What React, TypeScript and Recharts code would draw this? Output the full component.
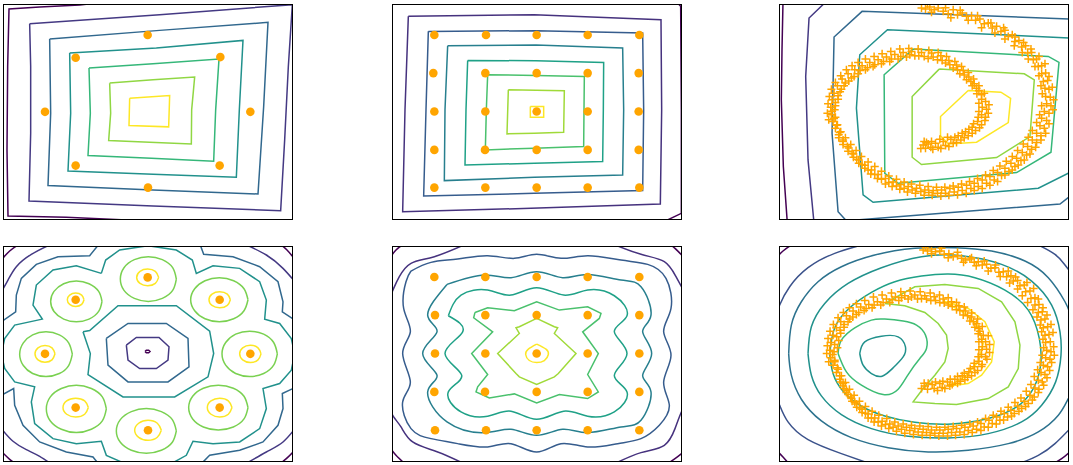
import React from "react";
import { ScatterChart, Scatter, XAxis, YAxis } from "recharts";

type Pt = [number, number];

// ---------- panel 1: eight gaussians on a square ----------
const sqDots: Pt[] = [[444, 106], [228, 174], [662, 172], [136, 336], [752, 336], [228, 497], [660, 497], [445, 563]];
const sqL1: Pt[] = [[310, 8], [240, 16], [120, 22], [28, 28], [24, 200], [22, 450], [25, 648], [200, 652], [470, 664]];
const sqL2: Pt[] = [[90, 72], [480, 45], [878, 15], [866, 200], [855, 420], [843, 632], [460, 618], [88, 603], [93, 400], [93, 200], [90, 72]];
const sqL3: Pt[] = [[150, 118], [480, 92], [805, 68], [792, 320], [775, 582], [460, 570], [145, 557], [153, 340], [150, 118]];
const sqL4: Pt[] = [[210, 160], [470, 145], [730, 122], [719, 330], [710, 532], [460, 523], [205, 513], [213, 340], [210, 160]];
const sqL5: Pt[] = [[268, 205], [460, 192], [658, 178], [648, 330], [642, 484], [455, 475], [265, 467], [272, 340], [268, 205]];
const sqL6: Pt[] = [[330, 250], [460, 240], [585, 232], [576, 330], [575, 432], [450, 427], [327, 422], [333, 340], [330, 250]];
const sqL7: Pt[] = [[390, 295], [510, 287], [507, 381], [388, 377], [390, 295]];

// ---------- panel 2: 5x5 grid ----------
const gridDots: Pt[] = [
  [140, 106], [295, 106], [447, 106], [600, 106], [755, 106],
  [137, 220], [293, 220], [447, 220], [600, 220], [753, 220],
  [140, 335], [293, 335], [447, 335], [600, 335], [753, 335],
  [140, 450], [292, 450], [447, 450], [600, 450], [753, 450],
  [140, 563], [293, 563], [447, 563], [600, 563], [755, 563],
];
const grL1: Pt[] = [[868, 8], [879, 20], [881, 330], [881, 640], [835, 662]];
const grL2: Pt[] = [[62, 50], [440, 45], [820, 60], [822, 330], [818, 612], [430, 625], [45, 635], [52, 330], [62, 50]];
const grL3: Pt[] = [[122, 95], [445, 93], [765, 100], [768, 330], [765, 572], [440, 580], [108, 588], [115, 330], [122, 95]];
const grL4: Pt[] = [[180, 138], [445, 136], [705, 145], [708, 330], [705, 525], [440, 532], [170, 542], [172, 330], [180, 138]];
const grL5: Pt[] = [[240, 182], [445, 183], [648, 188], [647, 330], [645, 485], [440, 490], [232, 495], [235, 330], [240, 182]];
const grL6: Pt[] = [[300, 225], [445, 227], [590, 230], [589, 330], [588, 440], [440, 445], [293, 450], [296, 330], [300, 225]];
const grL7: Pt[] = [[362, 270], [445, 271], [530, 273], [528, 397], [440, 400], [358, 402], [362, 270]];
const grL8: Pt[] = [[428, 320], [468, 320], [468, 352], [428, 352], [428, 320]];

// ---------- panel 3: spiral, coarse contours ----------
const spA: Pt[] = [
  [440, 25], [452, 28], [465, 22], [478, 30], [490, 25], [505, 35], [520, 42], [535, 30], [548, 45], [562, 40],
  [575, 50], [590, 48], [602, 62], [615, 58], [628, 72], [640, 70], [652, 85], [665, 80], [678, 95], [690, 92],
  [700, 110], [712, 105], [720, 125], [732, 122], [740, 142], [752, 138], [758, 160], [770, 158], [775, 180], [785, 178],
  [790, 200], [800, 198], [800, 222], [812, 220], [805, 245], [818, 242], [810, 265], [822, 268], [812, 290], [826, 292],
  [815, 312], [828, 318], [808, 335], [822, 340], [800, 355], [815, 362], [795, 378], [808, 385], [785, 400], [798, 408],
  [772, 420], [785, 428], [758, 440], [770, 448], [742, 458], [755, 465], [725, 475], [738, 482], [708, 490], [720, 500],
  [690, 505], [702, 515], [668, 518], [680, 527], [645, 530], [658, 540], [622, 540], [635, 550], [598, 550], [610, 560],
  [575, 556], [588, 566], [550, 562], [562, 572], [525, 566], [538, 576], [500, 570], [512, 580], [475, 572], [488, 580],
  [450, 570], [462, 578], [425, 565], [438, 575], [400, 560], [412, 570], [378, 554], [388, 565], [355, 546], [365, 558],
  [332, 536], [342, 548], [310, 524], [320, 538], [290, 510], [300, 524], [270, 496], [280, 510], [252, 480], [262, 494],
  [236, 462], [246, 478], [222, 444], [232, 460], [205, 425], [218, 440], [192, 405], [205, 420], [182, 385], [195, 398],
  [175, 365], [188, 375], [170, 345], [182, 352], [168, 322], [180, 330], [172, 300], [182, 308], [178, 280], [190, 288],
  [188, 258], [200, 268], [202, 238], [212, 250], [220, 222], [230, 235], [240, 210], [250, 222], [262, 198], [272, 210],
  [285, 188], [295, 200], [310, 180], [320, 192], [335, 172], [345, 185], [360, 164], [370, 178], [385, 158], [395, 172],
  [410, 155], [420, 168], [440, 158], [448, 170], [470, 160], [475, 172], [498, 168], [502, 182], [522, 182], [525, 195],
  [545, 196], [548, 210], [565, 212], [568, 226], [582, 232], [588, 245], [598, 252], [605, 265], [612, 272], [620, 285],
  [620, 298], [632, 305], [622, 322], [635, 328], [620, 345], [632, 352], [608, 365], [620, 375], [592, 382], [602, 392],
  [572, 396], [580, 408], [550, 408], [558, 420], [528, 418], [535, 430], [505, 425], [512, 437], [482, 430], [490, 442],
  [460, 432], [468, 442], [445, 435], [452, 445],
];
const spB: Pt[] = [
  [458, 14], [470, 38], [512, 24], [528, 54], [556, 32], [580, 62], [608, 48], [620, 84], [648, 70], [660, 100],
  [686, 84], [690, 118], [720, 112], [718, 138], [746, 128], [742, 158], [768, 148], [760, 178], [792, 170], [780, 200],
  [810, 192], [792, 228], [822, 230], [798, 258], [832, 262], [802, 282], [836, 300], [800, 318], [834, 330], [794, 345],
  [822, 372], [785, 368], [812, 400], [772, 392], [798, 420], [760, 412], [782, 442], [745, 432], [765, 462], [728, 452],
  [748, 480], [712, 470], [730, 495], [694, 484], [712, 510], [675, 498], [690, 525], [655, 512], [668, 545], [632, 525],
  [645, 556], [608, 536], [622, 566], [584, 545], [598, 572], [560, 552], [574, 580], [535, 558], [548, 584], [510, 562],
  [522, 586], [485, 562], [498, 588], [460, 560], [472, 586], [435, 556], [448, 586], [410, 552], [422, 580], [388, 546],
  [398, 576], [365, 538], [375, 568], [342, 528], [352, 560], [320, 514], [332, 552], [300, 500], [308, 536], [280, 486],
  [288, 522], [260, 470], [270, 505], [244, 452], [252, 490], [228, 434], [236, 472], [212, 414], [220, 454], [198, 396],
  [205, 434], [186, 376], [192, 414], [178, 356], [162, 360], [172, 334], [158, 340], [160, 312], [182, 318], [164, 290],
  [190, 298], [170, 268], [196, 276], [182, 248], [208, 258], [198, 228], [222, 244], [215, 210], [238, 230], [232, 198],
  [256, 212], [250, 188], [278, 204], [272, 178], [300, 195], [298, 170], [326, 185], [322, 162], [350, 178], [348, 155],
  [378, 170], [375, 148], [405, 165], [402, 146], [432, 168], [430, 148], [460, 176], [462, 152], [488, 180], [490, 158],
  [512, 190], [515, 170], [535, 205], [540, 185], [555, 222], [560, 200], [575, 240], [580, 218], [592, 258], [596, 238],
  [606, 282], [612, 258], [612, 310], [628, 280], [612, 335], [642, 315], [610, 352], [640, 340], [596, 372], [630, 362],
  [582, 388], [614, 384], [562, 400], [592, 400], [540, 412], [568, 414], [518, 412], [545, 428], [495, 418], [522, 440],
  [470, 425], [498, 446], [448, 425], [474, 448], [438, 446], [455, 428],
];
const spC1: Pt[] = [[25, 5], [22, 150], [20, 300], [26, 500], [38, 670]];
const spC2: Pt[] = [[155, 5], [103, 55], [93, 230], [100, 480], [118, 670]];
const spC3: Pt[] = [[890, 58], [262, 35], [178, 112], [172, 400], [190, 635], [222, 670], [245, 660], [855, 612], [890, 585]];
const spC4: Pt[] = [[890, 115], [338, 90], [255, 165], [245, 325], [265, 585], [295, 607], [790, 565], [890, 515]];
const spC5: Pt[] = [[415, 148], [820, 170], [852, 188], [828, 457], [725, 518], [370, 550], [330, 520], [328, 225], [415, 148]];
const spC6: Pt[] = [[493, 208], [748, 222], [778, 240], [765, 410], [665, 473], [440, 494], [412, 472], [412, 290], [493, 208]];
const spC7: Pt[] = [[580, 272], [678, 277], [707, 296], [700, 368], [605, 427], [520, 432], [497, 408], [497, 350], [580, 272]];

// ---------- panel 4: eight gaussians on a circle ----------
const ringDots: Pt[] = [[444, 107], [228, 174], [660, 174], [136, 336], [752, 336], [228, 497], [660, 497], [445, 565]];
const rgDark1: Pt[] = [[5, 55], [30, 28], [62, 5]];
const rgDark2: Pt[] = [[838, 5], [862, 25], [890, 58]];
const rgDark3: Pt[] = [[5, 628], [30, 652], [55, 670]];
const rgDark4: Pt[] = [[835, 670], [860, 650], [890, 620]];
const rgDarkC: Pt[] = [[436, 329], [440, 325], [447, 325], [451, 329], [447, 333], [440, 333], [436, 329]];
const rgPur1: Pt[] = [[160, 5], [95, 38], [50, 75], [25, 115], [5, 150]];
const rgPur2: Pt[] = [[730, 5], [800, 40], [850, 80], [890, 125]];
const rgPur3: Pt[] = [[5, 560], [40, 598], [80, 623], [120, 643], [160, 670]];
const rgPur4: Pt[] = [[730, 670], [800, 630], [850, 600], [890, 555]];
const rgPurC: Pt[] = [[380, 310], [410, 287], [478, 287], [508, 315], [505, 355], [470, 380], [420, 380], [385, 355], [380, 310]];
const rgBlu1: Pt[] = [[5, 240], [48, 210], [50, 160], [65, 110], [110, 68], [175, 45], [270, 42], [300, 5]];
const rgBlu2: Pt[] = [[600, 5], [612, 38], [700, 45], [780, 75], [835, 120], [850, 180], [848, 210], [890, 238]];
const rgBlu3: Pt[] = [[890, 435], [848, 455], [850, 500], [835, 550], [790, 600], [720, 625], [630, 640], [600, 670]];
const rgBlu4: Pt[] = [[5, 460], [42, 440], [45, 490], [70, 550], [120, 600], [200, 630], [280, 645], [300, 670]];
const rgBluC: Pt[] = [[320, 290], [385, 245], [500, 245], [565, 290], [568, 375], [505, 420], [385, 420], [325, 370], [320, 290]];
const rgTealOut: Pt[] = [
  [305, 95], [318, 55], [360, 25], [445, 12], [530, 25], [578, 55], [590, 95], [640, 72], [720, 80], [780, 120],
  [800, 175], [795, 232], [840, 245], [875, 290], [885, 336], [875, 385], [840, 425], [790, 440], [800, 500], [780, 560],
  [720, 600], [640, 605], [580, 598], [560, 640], [520, 662], [445, 670], [370, 662], [320, 640], [305, 598], [230, 605],
  [160, 590], [105, 545], [95, 480], [105, 435], [45, 420], [15, 380], [5, 336], [15, 290], [45, 250], [128, 232],
  [100, 190], [110, 130], [160, 85], [230, 72], [305, 95],
];
const rgTealIn: Pt[] = [[250, 270], [270, 266], [355, 192], [530, 192], [630, 268], [642, 335], [625, 405], [525, 465], [370, 465], [265, 398], [272, 335], [250, 270]];
const rgGreen1: Pt[] = [[530, 112], [519, 146], [488, 170], [446, 179], [404, 170], [373, 146], [362, 112], [373, 78], [404, 54], [446, 45], [488, 54], [519, 78], [530, 112]];
const rgGreen2: Pt[] = [[307, 179], [297, 209], [268, 232], [230, 240], [192, 232], [163, 209], [153, 179], [163, 149], [192, 126], [230, 118], [268, 126], [297, 149], [307, 179]];
const rgGreen3: Pt[] = [[745, 174], [733, 207], [702, 231], [659, 240], [616, 231], [585, 207], [573, 174], [585, 141], [616, 117], [659, 108], [702, 117], [733, 141], [745, 174]];
const rgGreen4: Pt[] = [[218, 337], [207, 371], [179, 395], [139, 404], [99, 395], [71, 371], [60, 337], [71, 303], [99, 279], [139, 270], [179, 279], [207, 303], [218, 337]];
const rgGreen5: Pt[] = [[833, 336], [822, 370], [792, 395], [750, 404], [708, 395], [678, 370], [667, 336], [678, 302], [708, 277], [750, 268], [792, 277], [822, 302], [833, 336]];
const rgGreen6: Pt[] = [[320, 501], [308, 537], [275, 562], [230, 572], [185, 562], [152, 537], [140, 501], [152, 465], [185, 440], [230, 430], [275, 440], [308, 465], [320, 501]];
const rgGreen7: Pt[] = [[745, 497], [733, 531], [701, 555], [656, 564], [611, 555], [579, 531], [567, 497], [579, 463], [611, 439], [656, 430], [701, 439], [733, 463], [745, 497]];
const rgGreen8: Pt[] = [[530, 567], [518, 601], [485, 625], [440, 634], [395, 625], [362, 601], [350, 567], [362, 533], [395, 509], [440, 500], [485, 509], [518, 533], [530, 567]];
const rgYel1: Pt[] = [[477, 107], [467, 125], [444, 132], [421, 125], [411, 107], [421, 89], [444, 82], [467, 89], [477, 107]];
const rgYel2: Pt[] = [[253, 174], [246, 188], [228, 194], [210, 188], [203, 174], [210, 160], [228, 154], [246, 160], [253, 174]];
const rgYel3: Pt[] = [[692, 174], [683, 191], [660, 198], [637, 191], [628, 174], [637, 157], [660, 150], [683, 157], [692, 174]];
const rgYel4: Pt[] = [[166, 336], [157, 354], [136, 361], [115, 354], [106, 336], [115, 318], [136, 311], [157, 318], [166, 336]];
const rgYel5: Pt[] = [[784, 336], [775, 354], [752, 362], [729, 354], [720, 336], [729, 318], [752, 310], [775, 318], [784, 336]];
const rgYel6: Pt[] = [[266, 497], [255, 517], [228, 525], [201, 517], [190, 497], [201, 477], [228, 469], [255, 477], [266, 497]];
const rgYel7: Pt[] = [[697, 497], [686, 517], [660, 525], [634, 517], [623, 497], [634, 477], [660, 469], [686, 477], [697, 497]];
const rgYel8: Pt[] = [[485, 565], [473, 586], [445, 595], [417, 586], [405, 565], [417, 544], [445, 535], [473, 544], [485, 565]];

// ---------- panel 5: 5x5 grid, smooth contours ----------
const grid2Dots: Pt[] = [
  [140, 106], [293, 106], [447, 106], [600, 106], [755, 106],
  [142, 220], [293, 220], [447, 220], [600, 220], [755, 220],
  [142, 335], [293, 335], [447, 335], [600, 335], [755, 335],
  [140, 450], [292, 450], [447, 450], [600, 450], [755, 450],
  [142, 565], [295, 565], [447, 565], [600, 565], [755, 565],
];
const g2Dark1: Pt[] = [[5, 52], [25, 25], [52, 5]];
const g2Dark2: Pt[] = [[843, 5], [862, 20], [890, 48]];
const g2Dark3: Pt[] = [[5, 613], [25, 640], [55, 668]];
const g2Dark4: Pt[] = [[835, 668], [862, 650], [890, 628]];
const g2Pur1: Pt[] = [[5, 170], [18, 140], [35, 105], [70, 65], [140, 45], [240, 5]];
const g2Pur2: Pt[] = [[670, 5], [760, 38], [830, 60], [865, 105], [890, 150]];
const g2Pur3: Pt[] = [[5, 495], [18, 525], [40, 555], [75, 600], [150, 630], [240, 670]];
const g2Pur4: Pt[] = [[670, 670], [760, 632], [830, 610], [862, 560], [875, 525], [890, 490]];
const g2L3: Pt[] = [
  [70, 88], [130, 62], [210, 52], [300, 42], [380, 50], [447, 38], [520, 50], [600, 42], [700, 55], [780, 68],
  [835, 110], [850, 200], [828, 270], [850, 340], [828, 420], [845, 490], [815, 550], [760, 590], [690, 605], [600, 615],
  [520, 605], [447, 630], [370, 605], [300, 615], [210, 605], [130, 590], [70, 560], [45, 480], [68, 420], [45, 335],
  [68, 270], [48, 200], [55, 120], [70, 88],
];
const g2L4: Pt[] = [
  [178, 128], [290, 100], [370, 108], [447, 90], [525, 108], [600, 98], [700, 115], [760, 135], [790, 220], [765, 270],
  [792, 335], [765, 400], [790, 450], [760, 535], [700, 555], [600, 572], [525, 562], [447, 580], [370, 562], [290, 572],
  [178, 540], [120, 450], [148, 400], [105, 335], [148, 270], [120, 220], [178, 128],
];
const g2L5: Pt[] = [
  [182, 222], [220, 160], [300, 145], [370, 160], [447, 138], [528, 160], [600, 145], [680, 162], [718, 222], [680, 270],
  [718, 335], [680, 400], [718, 450], [680, 510], [600, 523], [528, 508], [447, 532], [370, 508], [300, 523], [220, 510],
  [182, 450], [222, 400], [172, 335], [225, 270], [182, 222],
];
const g2L6: Pt[] = [
  [262, 212], [300, 198], [380, 207], [447, 180], [515, 205], [600, 195], [640, 215], [635, 230], [585, 270], [632, 335],
  [600, 398], [632, 450], [600, 470], [515, 458], [447, 483], [380, 456], [305, 468], [265, 450], [270, 435], [300, 398],
  [252, 335], [315, 270], [258, 228], [262, 212],
];
const g2L7: Pt[] = [[447, 230], [395, 255], [385, 258], [395, 275], [330, 335], [385, 395], [395, 405], [447, 428], [500, 405], [512, 395], [565, 335], [500, 275], [510, 258], [500, 255], [447, 230]];
const g2L8: Pt[] = [[447, 307], [475, 322], [482, 338], [470, 356], [447, 362], [425, 356], [414, 338], [422, 322], [447, 307]];

// ---------- panel 6: spiral, smooth contours ----------
const sp2A: Pt[] = [
  [445, 25], [458, 28], [470, 22], [482, 30], [495, 28], [508, 38], [522, 36], [535, 45], [548, 42], [560, 50],
  [572, 55], [585, 52], [598, 62], [610, 60], [622, 70], [635, 68], [648, 80], [660, 78], [672, 92], [685, 90],
  [695, 105], [708, 102], [715, 118], [728, 116], [735, 132], [748, 130], [752, 150], [765, 148], [768, 170], [780, 168],
  [780, 190], [792, 188], [790, 212], [802, 210], [798, 235], [810, 232], [805, 258], [818, 255], [810, 280], [822, 278],
  [812, 302], [826, 300], [815, 325], [828, 330], [812, 348], [825, 352], [805, 370], [818, 375], [798, 392], [810, 398],
  [790, 415], [802, 420], [780, 438], [792, 442], [765, 460], [778, 465], [748, 478], [760, 485], [728, 492], [740, 500],
  [708, 505], [718, 515], [688, 515], [698, 525], [665, 525], [675, 535], [642, 535], [652, 545], [618, 545], [628, 555],
  [595, 552], [605, 562], [570, 556], [580, 566], [545, 560], [555, 570], [520, 562], [530, 572], [495, 564], [505, 574],
  [470, 564], [480, 574], [445, 562], [455, 572], [420, 560], [430, 570], [395, 556], [405, 566], [370, 552], [380, 562],
  [345, 546], [355, 556], [322, 538], [332, 548], [300, 528], [310, 540], [280, 516], [290, 528], [262, 502], [272, 514],
  [245, 486], [255, 498], [230, 470], [240, 482], [215, 452], [228, 465], [205, 432], [215, 445], [195, 412], [205, 425],
  [185, 392], [195, 402], [175, 370], [188, 378], [168, 348], [180, 355], [165, 325], [178, 330], [168, 302], [180, 308],
  [175, 280], [186, 285], [185, 258], [196, 265], [198, 240], [208, 248], [215, 222], [225, 232], [235, 208], [245, 218],
  [258, 196], [268, 206], [282, 188], [292, 198], [308, 180], [318, 190], [335, 172], [345, 182], [362, 166], [372, 176],
  [390, 162], [400, 172], [420, 160], [428, 172], [450, 162], [455, 172], [478, 165], [482, 176], [505, 172], [508, 184],
  [530, 180], [532, 194], [552, 192], [555, 206], [572, 208], [578, 222], [590, 226], [596, 240], [605, 246], [612, 260],
  [615, 268], [625, 280], [620, 292], [632, 300], [622, 315], [635, 322], [620, 338], [632, 345], [612, 358], [622, 368],
  [598, 375], [608, 386], [582, 390], [590, 402], [562, 402], [570, 414], [540, 412], [548, 424], [518, 420], [525, 432],
  [495, 425], [502, 437], [472, 428], [478, 440], [450, 432], [458, 442],
];
const sp2B: Pt[] = [
  [452, 16], [470, 36], [500, 20], [520, 48], [548, 32], [566, 62], [590, 48], [604, 72], [628, 58], [640, 88],
  [662, 70], [676, 104], [700, 88], [704, 124], [722, 106], [728, 142], [756, 122], [742, 162], [776, 140], [758, 182],
  [790, 172], [774, 204], [804, 198], [786, 226], [816, 220], [796, 250], [828, 248], [800, 270], [834, 272], [804, 292],
  [836, 315], [806, 318], [838, 340], [802, 340], [830, 362], [796, 362], [824, 386], [788, 384], [816, 408], [778, 404],
  [806, 430], [768, 428], [790, 452], [754, 448], [772, 474], [738, 468], [752, 494], [720, 482], [732, 508], [700, 496],
  [710, 522], [678, 508], [686, 534], [655, 520], [664, 546], [632, 530], [640, 556], [608, 540], [618, 566], [585, 546],
  [592, 572], [560, 550], [568, 578], [535, 554], [542, 580], [510, 556], [518, 582], [485, 556], [492, 582], [460, 554],
  [466, 580], [435, 552], [442, 580], [410, 550], [416, 578], [385, 546], [390, 574], [360, 540], [365, 568], [336, 530],
  [342, 560], [312, 520], [320, 552], [292, 508], [298, 540], [272, 494], [280, 528], [254, 478], [262, 512], [238, 460],
  [246, 496], [224, 442], [232, 478], [212, 422], [220, 458], [200, 402], [208, 440], [190, 382], [198, 420], [180, 360],
  [162, 360], [174, 338], [156, 335], [158, 312], [188, 318], [160, 290], [192, 296], [166, 268], [198, 274], [176, 248],
  [208, 256], [190, 228], [220, 240], [206, 212], [234, 226], [224, 198], [252, 212], [245, 186], [274, 200], [270, 176],
  [298, 190], [296, 166], [325, 182], [322, 160], [352, 174], [350, 154], [380, 168], [378, 150], [410, 166], [406, 148],
  [440, 170], [436, 150], [468, 176], [466, 154], [495, 182], [494, 160], [520, 190], [520, 168], [545, 204], [545, 182],
  [565, 220], [568, 196], [585, 238], [590, 214], [600, 256], [608, 232], [610, 276], [622, 254], [612, 300], [640, 282],
  [612, 324], [644, 308], [610, 345], [644, 332], [598, 364], [636, 352], [586, 380], [620, 374], [568, 394], [600, 392],
  [548, 404], [578, 406], [526, 412], [556, 418], [504, 418], [532, 428], [482, 420], [510, 440], [460, 424], [488, 446],
  [440, 440], [448, 424],
];
const s2Dark1: Pt[] = [[5, 48], [25, 28], [55, 8], [80, 2]];
const s2Dark2: Pt[] = [[5, 625], [25, 645], [45, 668]];
const s2Dark3: Pt[] = [[830, 668], [860, 650], [890, 625]];
const s2Pur1: Pt[] = [[5, 225], [15, 190], [45, 135], [100, 78], [180, 35], [280, 5]];
const s2Pur2: Pt[] = [[780, 5], [840, 38], [870, 70], [890, 95]];
const s2Pur3: Pt[] = [[5, 470], [15, 490], [40, 540], [100, 593], [200, 635], [300, 670]];
const s2Pur4: Pt[] = [[720, 670], [790, 640], [840, 605], [890, 555]];
const s2B: Pt[] = [
  [42, 336], [50, 250], [80, 180], [130, 120], [200, 75], [300, 40], [420, 20], [540, 18], [650, 28], [750, 58],
  [820, 108], [870, 180], [895, 260], [900, 400], [880, 470], [850, 520], [790, 570], [700, 605], [580, 625], [460, 630],
  [340, 617], [230, 587], [140, 537], [80, 472], [50, 400], [42, 336],
];
const s2C: Pt[] = [
  [100, 336], [110, 255], [150, 185], [220, 125], [320, 78], [440, 45], [560, 42], [680, 68], [770, 118], [830, 190],
  [855, 270], [858, 340], [842, 420], [800, 490], [740, 540], [640, 575], [520, 588], [400, 583], [290, 560], [200, 518],
  [140, 462], [110, 400], [100, 336],
];
const s2D: Pt[] = [
  [165, 336], [180, 258], [225, 198], [290, 152], [360, 120], [440, 103], [520, 97], [600, 108], [690, 145], [760, 205],
  [793, 290], [797, 370], [775, 440], [725, 495], [640, 530], [530, 546], [420, 541], [330, 522], [260, 493], [205, 448],
  [175, 395], [165, 336],
];
const s2Kidney: Pt[] = [[190, 335], [200, 295], [240, 258], [290, 235], [330, 232], [385, 238], [425, 250], [452, 280], [455, 320], [435, 350], [400, 398], [370, 442], [325, 458], [260, 430], [215, 390], [190, 335]];
const s2Blob: Pt[] = [[255, 335], [270, 300], [320, 283], [370, 285], [392, 315], [385, 345], [355, 378], [322, 403], [290, 395], [265, 370], [255, 335]];
const s2Moon: Pt[] = [
  [330, 185], [420, 135], [510, 128], [610, 140], [680, 180], [720, 240], [735, 310], [730, 380], [700, 435], [640, 470],
  [545, 488], [480, 485], [415, 480], [445, 440], [480, 400], [510, 360], [520, 320], [515, 280], [490, 245], [450, 212],
  [390, 192], [330, 185],
];
const s2Yellow: Pt[] = [[505, 178], [580, 200], [630, 240], [658, 300], [650, 360], [620, 400], [580, 425], [520, 433], [570, 405], [610, 360], [625, 305], [610, 255], [570, 215], [505, 178]];

// ---------- styles ----------
const V7 = ["#440154", "#443983", "#31688e", "#21918c", "#35b779", "#90d743", "#fde725"];
const V8 = ["#440154", "#46327e", "#365c8d", "#277f8e", "#1fa187", "#4ac16d", "#a0da39", "#fde725"];
const ORANGE = "#ffa500";
const W = 290;
const H = 216;

const toPoints = (pts: Pt[]) => pts.map(([x, y]) => ({ x, y }));

const blob = (p: any) => <circle cx={p.cx} cy={p.cy} r={4.3} fill={ORANGE} />;
const plus = (p: any) => (
  <path
    d={`M${p.cx - 4},${p.cy}H${p.cx + 4}M${p.cx},${p.cy - 4}V${p.cy + 4}`}
    stroke={ORANGE}
    strokeWidth={1.5}
    fill="none"
  />
);
const noDot = () => <g />;

interface PanelProps {
  left: number;
  top: number;
  xDomain: [number, number];
  lines: Pt[][];
  colors: string[];
  curves?: string[];
  dots: Pt[][];
  marker: (p: any) => React.ReactElement;
}

function Panel({ left, top, xDomain, lines, colors, curves, dots, marker }: PanelProps) {
  return (
    <div style={{ position: "absolute", left, top, width: W, height: H }}>
      <ScatterChart width={W} height={H} margin={{ top: 0, right: 0, bottom: 0, left: 0 }}>
        <XAxis type="number" dataKey="x" domain={xDomain} hide allowDataOverflow />
        <YAxis type="number" dataKey="y" domain={[13, 660]} reversed hide allowDataOverflow />
        {lines.map((l, i) => (
          <Scatter
            key={i}
            data={toPoints(l)}
            line={{ stroke: colors[i], strokeWidth: 1.5 }}
            lineType="joint"
            lineJointType={(curves && curves[i]) || "linear"}
            shape={noDot}
            isAnimationActive={false}
          />
        ))}
        {dots.map((d, i) => (
          <Scatter key={"d" + i} data={toPoints(d)} shape={marker} isAnimationActive={false} />
        ))}
      </ScatterChart>
      <div
        style={{
          position: "absolute",
          left: 0,
          top: 0,
          width: W,
          height: H,
          border: "1px solid #000",
          boxSizing: "border-box",
          pointerEvents: "none",
        }}
      />
    </div>
  );
}

export default function App() {
  const ringLines = [
    rgDark1, rgDark2, rgDark3, rgDark4, rgDarkC,
    rgPur1, rgPur2, rgPur3, rgPur4, rgPurC,
    rgBlu1, rgBlu2, rgBlu3, rgBlu4, rgBluC,
    rgTealOut, rgTealIn,
    rgGreen1, rgGreen2, rgGreen3, rgGreen4, rgGreen5, rgGreen6, rgGreen7, rgGreen8,
    rgYel1, rgYel2, rgYel3, rgYel4, rgYel5, rgYel6, rgYel7, rgYel8,
  ];
  const ringColors = [
    ...Array(5).fill(V7[0]), ...Array(5).fill(V7[1]), ...Array(5).fill(V7[2]),
    V7[3], V7[3], ...Array(8).fill("#7ad151"), ...Array(8).fill(V7[6]),
  ];
  const ringCurves = [
    ...Array(4).fill("natural"), "linear",
    ...Array(4).fill("natural"), "linear",
    ...Array(4).fill("linear"), "linear",
    "linear", "linear", ...Array(16).fill("natural"),
  ];
  const g2Lines = [g2Dark1, g2Dark2, g2Dark3, g2Dark4, g2Pur1, g2Pur2, g2Pur3, g2Pur4, g2L3, g2L4, g2L5, g2L6, g2L7, g2L8];
  const g2Colors = [V8[0], V8[0], V8[0], V8[0], V8[1], V8[1], V8[1], V8[1], V8[2], V8[3], V8[4], V8[5], V8[6], V8[7]];
  const g2Curves = [...Array(11).fill("natural"), "linear", "linear", "natural"];
  const s2Lines = [s2Dark1, s2Dark2, s2Dark3, s2Pur1, s2Pur2, s2Pur3, s2Pur4, s2B, s2C, s2D, s2Kidney, s2Blob, s2Moon, s2Yellow];
  const s2Colors = ["#440154", "#440154", "#440154", "#3b528b", "#3b528b", "#3b528b", "#3b528b", "#2c728e", "#21918c", "#1fa187", "#3dbc74", "#21918c", "#90d743", "#fde725"];
  const s2Curves = [...Array(12).fill("natural"), "linear", "linear"];

  return (
    <div style={{ position: "absolute", left: 0, top: 0, width: 1073, height: 465, background: "#fff" }}>
      <Panel left={3} top={4} xDomain={[10, 880]} lines={[sqL1, sqL2, sqL3, sqL4, sqL5, sqL6, sqL7]} colors={V7} dots={[sqDots]} marker={blob} />
      <Panel left={392} top={4} xDomain={[13, 883]} lines={[grL1, grL2, grL3, grL4, grL5, grL6, grL7, grL8]} colors={V8} dots={[gridDots]} marker={blob} />
      <Panel left={779} top={4} xDomain={[13, 882]} lines={[spC1, spC2, spC3, spC4, spC5, spC6, spC7]} colors={V7} dots={[spA, spB]} marker={plus} />
      <Panel left={3} top={246} xDomain={[10, 880]} lines={ringLines} colors={ringColors} curves={ringCurves} dots={[ringDots]} marker={blob} />
      <Panel left={392} top={246} xDomain={[13, 883]} lines={g2Lines} colors={g2Colors} curves={g2Curves} dots={[grid2Dots]} marker={blob} />
      <Panel left={779} top={246} xDomain={[13, 882]} lines={s2Lines} colors={s2Colors} curves={s2Curves} dots={[sp2A, sp2B]} marker={plus} />
    </div>
  );
}
